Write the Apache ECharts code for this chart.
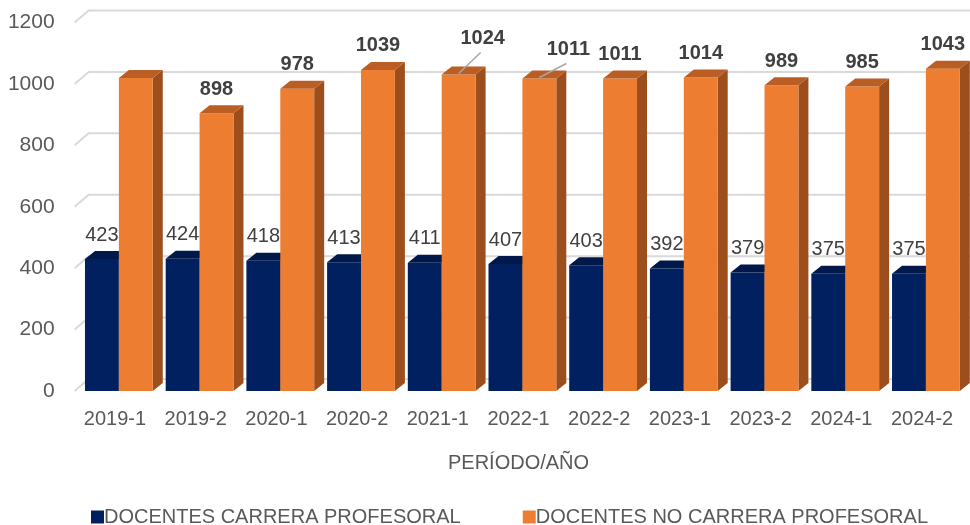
<!DOCTYPE html>
<html><head><meta charset="utf-8">
<script src="https://cdn.jsdelivr.net/npm/echarts@6/dist/echarts.min.js"></script>
<style>html,body{margin:0;padding:0;background:#fff}#c{width:970px;height:525px}</style>
</head><body><div id="c"></div>
<script>
const categories = ['2019-1','2019-2','2020-1','2020-2','2021-1','2022-1','2022-2','2023-1','2023-2','2024-1','2024-2'];
const carrera = [423,424,418,413,411,407,403,392,379,375,375];
const noCarrera = [1013,898,978,1039,1024,1011,1011,1014,989,985,1043];
const yTicks = [0,200,400,600,800,1000,1200];
const seriesNames = ['DOCENTES CARRERA PROFESORAL','DOCENTES NO CARRERA PROFESORAL'];

const FONT = '"Liberation Sans", Arial, sans-serif';
const colors = [
  {front:'#002060', top:'#00184a', side:'#00153f'},
  {front:'#ED7D31', top:'#BA5E24', side:'#9C4F1D'}
];
const DX = 10, DY = 8;
// label layout tweaks (index -> [dx, dy]) and hidden labels
const hiddenLabels = [[], [0]];
const labelShift = [{}, {4:[24,-12], 5:[29,-5]}];

function barRender(k){
  return function(params, api){
    const i = api.value(0), v = api.value(1);
    const top = api.coord([i, v]);
    const base = api.coord([i, 0]);
    const b = api.size([1, 0])[0];
    const w = b * 0.42;
    const x0 = top[0] - 0.372 * b + (k === 1 ? w : 0);
    const x1 = x0 + w;
    const yT = top[1] - 2, yB = base[1];
    const c = colors[k];
    const children = [
      {type:'polygon', shape:{points:[[x1,yT],[x1+DX,yT-DY],[x1+DX,yB-DY],[x1,yB]]}, style:{fill:c.side}},
      {type:'rect', shape:{x:x0, y:yT, width:w, height:yB-yT}, style:{fill:c.front}},
      {type:'polygon', shape:{points:[[x0,yT],[x1,yT],[x1+DX,yT-DY],[x0+DX,yT-DY]]}, style:{fill:c.top}}
    ];
    if (hiddenLabels[k].indexOf(i) < 0) {
      const sh = labelShift[k][i] || [0, 0];
      const lx = x0 + w/2 + sh[0], ly = yT - 24 + sh[1];
      if (sh[0] !== 0 || sh[1] !== 0) {
        children.push({type:'line', shape:{x1:x0 + w/2, y1:yT - 1, x2:lx - 2, y2:ly + 14}, style:{stroke:'#a6a6a6', lineWidth:1.5}});
      }
      children.push({type:'text', style:{text:String(v), x:lx, y:ly, align:'center', verticalAlign:'middle',
        fill:'#404040', font:(k === 1 ? 'bold ' : '') + '20px ' + FONT}});
    }
    return {type:'group', children};
  };
}

function gridRender(params, api){
  const v = api.value(1);
  const p = api.coord([0, v]);
  const cs = params.coordSys;
  const y = p[1];
  return {type:'polyline', shape:{points:[[cs.x, y],[cs.x+14, y-12],[cs.x+cs.width+14, y-12]]},
    style:{stroke:'#d9d9d9', lineWidth:2, fill:null}};
}

const chart = echarts.init(document.getElementById('c'));
chart.setOption({
  animation:false,
  backgroundColor:'#fff',
  grid:{left:74.65, right:7.6, top:22.5, bottom:134},
  legend:{
    data:[{name:seriesNames[0], icon:'rect'},{name:seriesNames[1], icon:'rect'}],
    left:86, top:502, itemWidth:13, itemHeight:13, itemGap:62,
    textStyle:{fontSize:20, color:'#595959', fontFamily:FONT, padding:[0,0,0,-5]}
  },
  xAxis:{
    type:'category', data:categories,
    axisLine:{show:false}, axisTick:{show:false},
    axisLabel:{fontSize:20, color:'#595959', fontFamily:FONT, margin:18, interval:0},
    name:'PERÍODO/AÑO', nameLocation:'middle', nameGap:62,
    nameTextStyle:{fontSize:20, color:'#595959', fontFamily:FONT}
  },
  yAxis:{
    type:'value', min:0, max:1200, interval:200,
    axisLine:{show:false}, axisTick:{show:false}, splitLine:{show:false},
    axisLabel:{fontSize:21, color:'#595959', fontFamily:FONT, margin:20, formatter:v => String(v)}
  },
  series:[
    {type:'custom', name:'grid', renderItem:gridRender, data:yTicks.map(t => [0, t]), encode:{x:0, y:1}, z:0, silent:true},
    {type:'custom', name:seriesNames[0], renderItem:barRender(0), data:carrera.map((v,i) => [i, v]), encode:{x:0, y:1}, itemStyle:{color:colors[0].front}, z:2},
    {type:'custom', name:seriesNames[1], renderItem:barRender(1), data:noCarrera.map((v,i) => [i, v]), encode:{x:0, y:1}, itemStyle:{color:colors[1].front}, z:3}
  ]
});
</script>
</body></html>
